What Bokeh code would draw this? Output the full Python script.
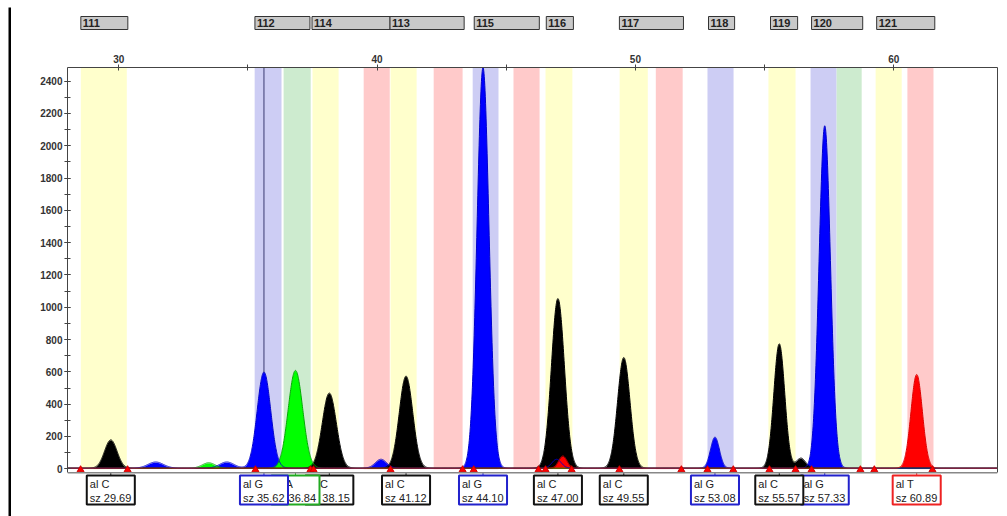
import numpy as np
from bokeh.plotting import figure
from bokeh.layouts import column, row
from bokeh.models import Range1d, LinearAxis, FixedTicker, SingleIntervalTicker, Span, Spacer
from bokeh.core.properties import value
from bokeh.embed import file_html
from bokeh.resources import INLINE

# ---------------- data ----------------
# marker (bin set) header boxes
marker_names = ["111", "112", "114", "113", "115", "116", "117", "118", "119", "120", "121"]
marker_start = [28.53, 35.27, 37.48, 40.50, 43.76, 46.55, 49.38, 52.83, 55.23, 56.82, 59.34]
marker_end = [30.35, 37.40, 40.50, 43.37, 46.28, 47.60, 51.86, 53.84, 56.28, 58.80, 61.59]

# allele bins (coloured bands)
bin_left = [28.53, 35.26, 36.38, 37.50, 39.48, 40.52, 42.19, 43.70, 45.28, 46.52,
            49.39, 50.79, 52.79, 55.15, 56.78, 57.79, 59.30, 60.53]
bin_right = [30.31, 36.30, 37.43, 38.51, 40.49, 41.53, 43.31, 44.70, 46.29, 47.56,
             50.48, 51.83, 53.80, 56.20, 57.79, 58.76, 60.31, 61.54]
bin_dye = ["C", "G", "A", "C", "T", "C", "T", "G", "T", "C",
           "C", "T", "G", "C", "G", "A", "C", "T"]

# peaks of the electropherogram (size in bp, height in RFU, width in bp)
peak_size = [29.69, 31.43, 33.48, 34.18, 35.62, 36.84, 38.15, 40.15, 41.12, 44.10,
             46.95, 47.19, 47.00, 49.55, 53.08, 55.57, 56.41, 57.33, 60.89]
peak_height = [175, 38, 33, 38, 595, 605, 465, 55, 570, 2480,
               55, 75, 1050, 685, 192, 770, 62, 2120, 580]
peak_sigma = [0.24, 0.30, 0.25, 0.28, 0.26, 0.28, 0.27, 0.22, 0.26, 0.23,
              0.18, 0.16, 0.25, 0.24, 0.17, 0.21, 0.18, 0.22, 0.22]
peak_dye = ["C", "G", "A", "G", "G", "A", "C", "G", "C", "G",
            "G", "T", "C", "C", "G", "C", "C", "G", "T"]

# allele calls
call_allele = ["C", "G", "A", "C", "C", "G", "C", "C", "G", "C", "G", "T"]
call_size = [29.69, 35.62, 36.84, 38.15, 41.12, 44.10, 47.00, 49.55, 53.08, 55.57, 57.33, 60.89]

# red peak-edge markers on the baseline
edge_marks = [28.52, 30.34, 35.29, 37.42, 37.54, 40.52, 43.31, 43.74, 46.25, 46.52, 47.53,
              49.38, 51.78, 52.79, 53.79, 55.19, 56.20, 56.82, 58.71, 59.25, 61.50]

cursor_size = 35.62

# ---------------- styling ----------------
band_colors = {"C": "#FFFFCC", "G": "#CDCDF4", "A": "#CDEBCF", "T": "#FFCACA"}
dye_fill = {"C": "#000000", "G": "#0000FF", "A": "#00FF00", "T": "#FF0000"}
dye_line = {"C": "#000000", "G": "#0000CC", "A": "#00AA00", "T": "#DD0000"}
box_line = {"C": "#111111", "G": "#2222CC", "A": "#22AA22", "T": "#EE2222"}
FONT = value("Liberation Sans")

xr = Range1d(28.014, 64.018)
Y_TOP = 2484.8
Y_BOT = -258.2


def blank(w, h, fill):
    b = figure(width=w, height=h, title=None, x_axis_location=None, y_axis_location=None,
               min_border=0, output_backend="svg", toolbar_location=None,
               background_fill_color=fill, border_fill_color=fill)
    b.outline_line_color = None
    for g in b.grid:
        g.visible = False
    return b


# ---------------- left strip: thick black window edge ----------------
left = figure(width=11, height=516, title=None, x_range=Range1d(0, 11), y_range=Range1d(516, 0),
              x_axis_location=None, y_axis_location=None, min_border=0,
              output_backend="svg", toolbar_location=None)
left.outline_line_color = None
for g in left.grid:
    g.visible = False
left.quad(left=[8], right=[11], top=[7], bottom=[516], fill_color="black", line_color=None)

# top edge of the window
top_bar = blank(996, 3, "black")

# ---------------- header with marker boxes ----------------
header = figure(width=996, height=35, x_range=xr, y_range=Range1d(0, 35),
                x_axis_location=None, y_axis_location=None,
                min_border_left=56, min_border_right=10, min_border_top=0, min_border_bottom=0,
                output_backend="svg", toolbar_location=None)
header.outline_line_color = None
for g in header.grid:
    g.visible = False
header.quad(left=marker_start, right=marker_end, top=29, bottom=16,
            fill_color="#C9C9C9", line_color="#333333", line_width=1)
header.text(x=marker_start, y=[22.5] * len(marker_start), text=marker_names,
            x_offset=2, text_baseline="middle", text_align="left",
            text_font=FONT, text_font_style="bold", text_font_size="11px",
            text_color="#222222")

# ---------------- main electropherogram ----------------
p = figure(width=996, height=471, x_range=xr, y_range=Range1d(Y_BOT, Y_TOP),
           x_axis_location="above", y_axis_location="left",
           min_border_left=56, min_border_right=10, min_border_top=22, min_border_bottom=6,
           output_backend="svg", toolbar_location=None)
p.outline_line_color = None
p.grid.visible = False

p.xaxis.ticker = FixedTicker(ticks=[30, 40, 50, 60], minor_ticks=[35, 45, 55])
p.yaxis.ticker = SingleIntervalTicker(interval=200, num_minor_ticks=2)
p.yaxis.bounds = (-25, Y_TOP)
for ax in (p.xaxis[0], p.yaxis[0]):
    ax.axis_line_color = "#444444"
    ax.major_tick_line_color = "#444444"
    ax.minor_tick_line_color = "#444444"
    ax.major_tick_in = 3
    ax.major_tick_out = 3
    ax.minor_tick_in = 3
    ax.minor_tick_out = 3
    ax.major_label_text_font = "Liberation Sans"
    ax.major_label_text_font_style = "bold"
    ax.major_label_text_font_size = "10px"
    ax.major_label_text_color = "#333333"
    ax.major_label_standoff = 2

right = LinearAxis(ticker=FixedTicker(ticks=[]), bounds=(-25, Y_TOP),
                   axis_line_color="#444444", major_tick_line_color=None,
                   minor_tick_line_color=None, major_label_text_font_size="0px")
p.add_layout(right, "right")

# bands
p.quad(left=bin_left, right=bin_right, top=Y_TOP, bottom=-3,
       fill_color=[band_colors[d] for d in bin_dye], line_color=None)

# cursor line
p.segment(x0=[cursor_size], y0=[0], x1=[cursor_size], y1=[Y_TOP],
          line_color="#3A3A70", line_width=1)

# traces
xs = np.linspace(28.0, 64.1, 3600)
traces = {}
for dye in ["G", "A", "C", "T"]:
    y = np.zeros_like(xs)
    for c, h, s, d in zip(peak_size, peak_height, peak_sigma, peak_dye):
        if d == dye:
            y += h * np.exp(-0.5 * ((xs - c) / s) ** 2)
    traces[dye] = y
for dye in ["G", "A", "C", "T"]:
    p.varea(x=xs, y1=0, y2=traces[dye], fill_color=dye_fill[dye])
for dye in ["C", "A", "G", "T"]:
    p.line(xs, traces[dye] + 4, line_color=dye_line[dye], line_width=1)

# baseline markers
p.scatter(x=edge_marks, y=[-6] * len(edge_marks), marker="triangle", size=7,
          fill_color="#FF0000", line_color="#CC0000")

# bottom line of the plot area
p.add_layout(Span(location=-25, dimension="width", line_color="#888888", line_width=1.5))

# allele call boxes (drawn right to left, so that left boxes lie on top)
half_w = 0.93
for a, s in reversed(list(zip(call_allele, call_size))):
    col = box_line[a]
    p.segment(x0=[s], y0=[-25], x1=[s], y1=[-42], line_color=col, line_width=1)
    p.quad(left=[s - half_w], right=[s + half_w], top=[-42], bottom=[-221],
           fill_color="white", line_color=col, line_width=2)
    p.text(x=[s - half_w], y=[-95], text=["al " + a], x_offset=3,
           text_baseline="middle", text_font=FONT, text_font_size="11px", text_color="#222222")
    p.text(x=[s - half_w], y=[-178], text=["sz %.2f" % s], x_offset=3,
           text_baseline="middle", text_font=FONT, text_font_size="11px", text_color="#222222")

layout = row(left, column(Spacer(width=996, height=7), top_bar, header, p))

open("out.html", "w").write(file_html(layout, INLINE))
